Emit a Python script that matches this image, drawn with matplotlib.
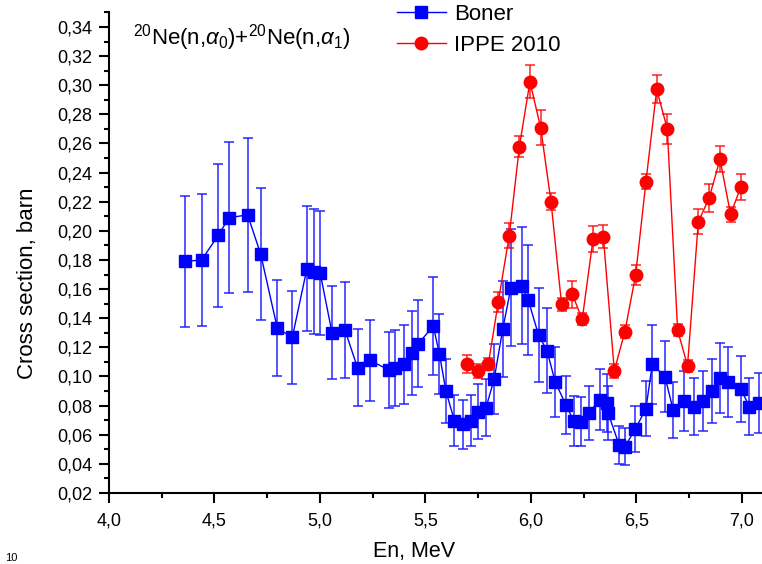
import matplotlib
matplotlib.use("Agg")
import matplotlib.pyplot as plt
from matplotlib.ticker import MultipleLocator, FuncFormatter

plt.rcParams['font.family'] = ['Liberation Sans', 'DejaVu Sans']
plt.rcParams['mathtext.fontset'] = 'custom'
plt.rcParams['mathtext.rm'] = 'Liberation Sans'
plt.rcParams['mathtext.it'] = 'Liberation Sans:italic'

# Boner data
boner_x = [4.360, 4.439, 4.518, 4.569, 4.657, 4.719, 4.798, 4.869, 4.938, 4.970,
           5.001, 5.057, 5.118, 5.178, 5.237, 5.327, 5.357, 5.398, 5.438, 5.466,
           5.537, 5.566, 5.597, 5.637, 5.676, 5.716, 5.747, 5.787, 5.826, 5.866,
           5.905, 5.956, 5.987, 6.036, 6.076, 6.115, 6.166, 6.202, 6.237, 6.275,
           6.325, 6.359, 6.366, 6.418, 6.445, 6.494, 6.545, 6.575, 6.635, 6.674,
           6.725, 6.774, 6.814, 6.856, 6.896, 6.935, 6.995, 7.035, 7.082]
boner_y = [0.179, 0.180, 0.197, 0.209, 0.211, 0.184, 0.133, 0.127, 0.174, 0.172,
           0.171, 0.130, 0.132, 0.106, 0.111, 0.1045, 0.1056, 0.1084, 0.1163, 0.1225,
           0.1347, 0.1155, 0.090, 0.0697, 0.0672, 0.0697, 0.0758, 0.0786, 0.0985, 0.1324,
           0.161, 0.1624, 0.1525, 0.1285, 0.1177, 0.0962, 0.0804, 0.0697, 0.069, 0.0749,
           0.0841, 0.082, 0.0747, 0.053, 0.0518, 0.0637, 0.078, 0.1084, 0.0999, 0.077,
           0.0832, 0.0793, 0.0832, 0.090, 0.0988, 0.0964, 0.0914, 0.0793, 0.082]
boner_err = [0.045, 0.045, 0.049, 0.052, 0.053, 0.0455, 0.033, 0.032, 0.043, 0.043,
             0.0425, 0.032, 0.033, 0.0265, 0.0275, 0.026, 0.026, 0.027, 0.029, 0.030,
             0.0335, 0.0275, 0.022, 0.0175, 0.0167, 0.0175, 0.019, 0.0195, 0.024, 0.033,
             0.040, 0.040, 0.038, 0.032, 0.029, 0.024, 0.020, 0.0172, 0.017, 0.0185,
             0.021, 0.020, 0.0185, 0.013, 0.0128, 0.0157, 0.019, 0.027, 0.0245, 0.019,
             0.0205, 0.0195, 0.0205, 0.022, 0.024, 0.024, 0.0225, 0.0195, 0.0205]

# IPPE 2010 data
ippe_x = [5.695, 5.747, 5.798, 5.845, 5.897, 5.945, 5.995, 6.046, 6.095, 6.145,
          6.196, 6.243, 6.294, 6.343, 6.395, 6.445, 6.496, 6.545, 6.596, 6.646,
          6.695, 6.742, 6.793, 6.845, 6.896, 6.946, 6.995]
ippe_y = [0.1086, 0.1038, 0.1086, 0.1512, 0.1967, 0.2578, 0.3024, 0.2709, 0.2200, 0.1496,
          0.1564, 0.1393, 0.1942, 0.1960, 0.1040, 0.1308, 0.1697, 0.2338, 0.2972, 0.2700,
          0.1319, 0.1074, 0.2061, 0.2228, 0.2492, 0.2114, 0.2303]
ippe_err = [0.006, 0.005, 0.004, 0.0067, 0.0087, 0.007, 0.0115, 0.012, 0.0057, 0.0043,
            0.0095, 0.004, 0.009, 0.008, 0.0047, 0.0044, 0.007, 0.005, 0.0095, 0.0105,
            0.004, 0.004, 0.0086, 0.0097, 0.009, 0.005, 0.009]

fig = plt.figure(figsize=(7.62, 5.64), dpi=100)
ax = fig.add_axes([109/762, 1 - 493/564, 1 - 109/762, (493 - 12.4)/564])

ax.errorbar(boner_x, boner_y, yerr=boner_err, fmt='none', ecolor='#1a1aff',
            elinewidth=1.3, capsize=3.5, capthick=1.3, alpha=0.8, zorder=2)
ax.plot(boner_x, boner_y, '-s', color='#0000ff', lw=1.0, markersize=8,
        label='Boner', zorder=3)
ax.errorbar(ippe_x, ippe_y, yerr=ippe_err, fmt='none', ecolor='#ff0000',
            elinewidth=1.2, capsize=3.5, capthick=1.2, alpha=0.8, zorder=4)
ax.plot(ippe_x, ippe_y, '-o', color='#ff0000', lw=1.0, markersize=9,
        label='IPPE 2010', zorder=5)

ax.set_xlim(4.0, 7.095)
ax.set_ylim(0.02, 0.35)
ax.xaxis.set_major_locator(MultipleLocator(0.5))
ax.xaxis.set_minor_locator(MultipleLocator(0.25))
ax.yaxis.set_major_locator(MultipleLocator(0.02))
ax.yaxis.set_minor_locator(MultipleLocator(0.01))
ax.xaxis.set_major_formatter(FuncFormatter(lambda v, p: f"{v:.1f}".replace('.', ',')))
ax.yaxis.set_major_formatter(FuncFormatter(lambda v, p: f"{v:.2f}".replace('.', ',')))

for s in ['top', 'right']:
    ax.spines[s].set_visible(False)
for s in ['left', 'bottom']:
    ax.spines[s].set_linewidth(1.5)

ax.tick_params(axis='both', which='major', direction='out', length=7.2, width=1.5,
               labelsize=13)
ax.tick_params(axis='x', which='major', pad=7)
ax.tick_params(axis='y', which='major', pad=5)
ax.tick_params(axis='both', which='minor', direction='out', length=3.6, width=1.5)

ax.set_xlabel('En, MeV', fontsize=15.5)
ax.xaxis.set_label_coords((414 - 109) / 653, -(541 - 493) / 480.6)
ax.set_ylabel('Cross section, barn', fontsize=16)
ax.yaxis.set_label_coords((38 - 109) / 653, (493 - 283) / 480.6)

ax.text(133/762, 1 - 38/564, r'$^{20}$Ne(n,$\alpha_0$)+$^{20}$Ne(n,$\alpha_1$)',
        transform=fig.transFigure, fontsize=16, va='center', ha='left')

leg = ax.legend(loc='upper left', bbox_to_anchor=(397/762, 1 - 4/564),
                bbox_transform=fig.transFigure, frameon=False, fontsize=16,
                handlelength=2.2, handletextpad=0.35, labelspacing=0.45,
                borderpad=0.0, borderaxespad=0.0)

fig.text(5/762, 1 - 563/564, '10', fontsize=8, va='bottom', ha='left')

fig.savefig('out.png', dpi=100)
